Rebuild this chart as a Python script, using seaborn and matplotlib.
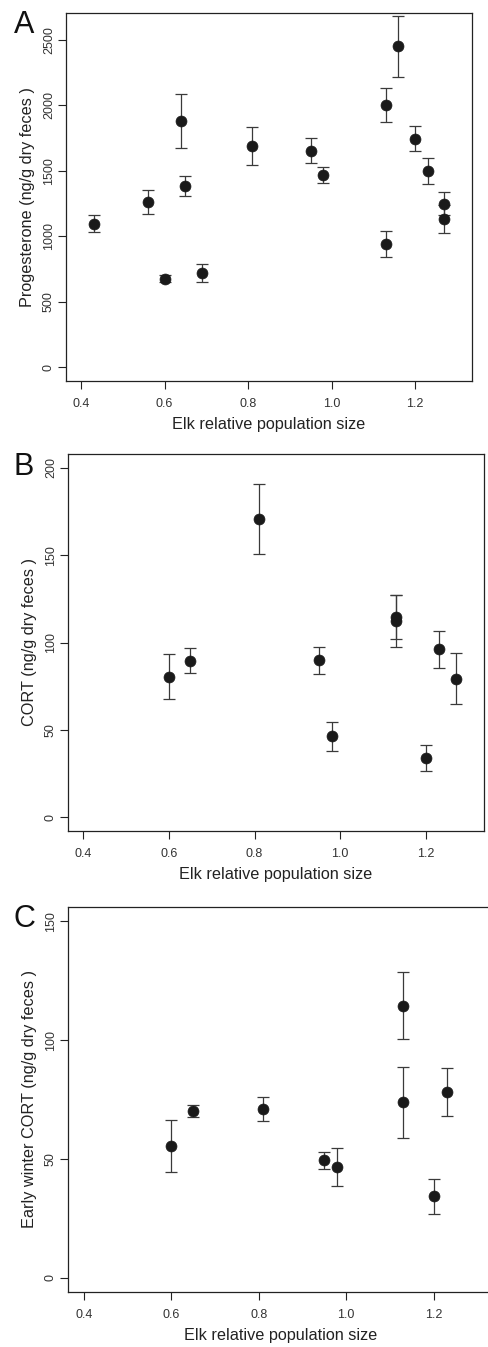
import matplotlib
matplotlib.use("Agg")
import matplotlib.pyplot as plt
import seaborn as sns
import pandas as pd
import numpy as np

sns.set_style("ticks")
plt.rcParams['font.family'] = ['Liberation Sans', 'DejaVu Sans']

# Panel A: progesterone
a_x = [0.43, 0.56, 0.60, 0.64, 0.65, 0.69, 0.81, 0.95, 0.98, 1.13, 1.13, 1.16, 1.20, 1.23, 1.27, 1.27]
a_y = [1097, 1263, 676, 1880, 1386, 721, 1690, 1653, 1470, 2000, 940, 2449, 1745, 1498, 1249, 1131]
a_err = [66, 90, 27, 205, 75, 67, 143, 94, 61, 128, 98, 230, 93, 100, 90, 108]

# Panel B: CORT
b_x = [0.60, 0.65, 0.81, 0.95, 0.98, 1.13, 1.13, 1.20, 1.23, 1.27]
b_y = [80.5, 89.6, 170.8, 89.7, 46.2, 114.6, 112.3, 33.9, 96.2, 79.3]
b_err = [13.0, 7.0, 19.9, 8.0, 8.4, 12.8, 14.7, 7.5, 10.6, 14.4]

# Panel C: early winter CORT
c_x = [0.60, 0.65, 0.81, 0.95, 0.98, 1.13, 1.13, 1.20, 1.23]
c_y = [55.3, 70.2, 71.0, 49.4, 46.6, 114.4, 73.8, 34.2, 78.3]
c_err = [11.0, 2.5, 5.0, 3.7, 8.2, 14.1, 15.0, 7.5, 10.1]

panel_letters = ["A", "B", "C"]
y_labels = ["Progesterone (ng/g dry feces )", "CORT (ng/g dry feces )",
            "Early winter CORT (ng/g dry feces )"]
x_label = "Elk relative population size"
x_ticks = [0.4, 0.6, 0.8, 1.0, 1.2]
y_ticks = [[0, 500, 1000, 1500, 2000, 2500], [0, 50, 100, 150, 200], [0, 50, 100, 150]]
y_max = [2600, 200, 150]

W, H = 488, 1347
fig = plt.figure(figsize=(W / 100, H / 100), dpi=100)

# axes boxes in pixels: left, right, top, bottom
boxes = [(66, 472, 13, 381), (68, 484, 454, 831), (68, 493, 907, 1292)]
letter_pos = [(24, 25), (24, 467), (24, 919)]

data = [(a_x, a_y, a_err), (b_x, b_y, b_err), (c_x, c_y, c_err)]
ink = "#1a1a1a"

for i, ((xs, ys, es), (l, r, t, b)) in enumerate(zip(data, boxes)):
    ax = fig.add_axes([l / W, 1 - b / H, (r - l) / W, (b - t) / H])
    ax.errorbar(xs, ys, yerr=es, fmt='none', ecolor="#3a3a3a", elinewidth=0.9,
                capsize=4, capthick=0.9, zorder=2)
    df = pd.DataFrame({"x": xs, "y": ys})
    sns.scatterplot(data=df, x="x", y="y", ax=ax, color=ink, s=62,
                    edgecolor=ink, linewidth=0.5, zorder=3, legend=False)
    xr = 1.3 - 0.4
    ax.set_xlim(0.4 - 0.04 * xr, 1.3 + 0.04 * xr)
    ax.set_ylim(-0.04 * y_max[i], y_max[i] * 1.04)
    ax.set_xticks(x_ticks)
    ax.set_xticklabels([f"{v:.1f}" for v in x_ticks])
    ax.set_yticks(y_ticks[i])
    ax.set_yticklabels([str(v) for v in y_ticks[i]], rotation=90, va='center')
    ax.tick_params(axis='both', direction='out', length=6, width=0.8,
                   labelsize=9, colors="#222222", labelcolor="#333333")
    ax.tick_params(axis='x', pad=6)
    ax.tick_params(axis='y', pad=2)
    for s in ax.spines.values():
        s.set_linewidth(0.9)
        s.set_color("#222222")
    ax.set_xlabel(x_label, fontsize=11.7, color="#222222", labelpad=5)
    ax.set_ylabel(y_labels[i], fontsize=11.7, color="#222222", labelpad=6)
    fig.text(letter_pos[i][0] / W, 1 - letter_pos[i][1] / H, panel_letters[i],
             fontsize=22, ha='center', va='center', color="#111111")

fig.savefig("out.png", dpi=100)
